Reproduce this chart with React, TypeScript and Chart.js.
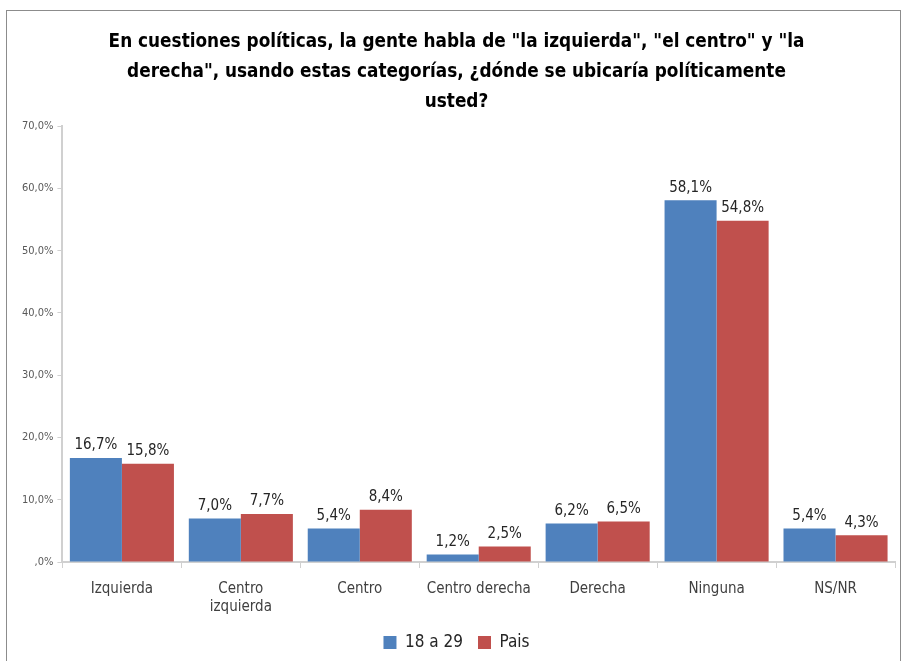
import React, { useEffect, useRef } from "react";
import { Chart, registerables } from "chart.js";

Chart.register(...registerables);

const categories: (string | string[])[] = [
  "Izquierda",
  ["Centro", "izquierda"],
  "Centro",
  "Centro derecha",
  "Derecha",
  "Ninguna",
  "NS/NR",
];
const jovenes = [16.7, 7.0, 5.4, 1.2, 6.2, 58.1, 5.4];
const pais = [15.8, 7.7, 8.4, 2.5, 6.5, 54.8, 4.3];
const seriesNames = ["18 a 29", "Pais"];
const titleLines = [
  'En cuestiones políticas, la gente habla de "la izquierda", "el centro" y "la',
  'derecha", usando estas categorías, ¿dónde se ubicaría políticamente',
  "usted?",
];

const FONT = "'Liberation Sans Narrow', 'DejaVu Sans Condensed', 'Open Sans', sans-serif";
const fmt = (v: number) => v.toFixed(1).replace(".", ",") + "%";

const labelPlugin = {
  id: "barLabels",
  afterDatasetsDraw(chart: any) {
    const ctx = chart.ctx;
    ctx.save();
    ctx.font = `15px ${FONT}`;
    ctx.fillStyle = "#262626";
    ctx.textAlign = "center";
    ctx.textBaseline = "bottom";
    chart.data.datasets.forEach((ds: any, i: number) => {
      const meta = chart.getDatasetMeta(i);
      meta.data.forEach((bar: any, j: number) => {
        ctx.fillText(fmt(ds.data[j]), bar.x, bar.y - 5);
      });
    });
    ctx.restore();
  },
};

export default function App() {
  const ref = useRef<HTMLCanvasElement>(null);
  useEffect(() => {
    if (!ref.current) return;
    const chart = new Chart(ref.current, {
      type: "bar",
      data: {
        labels: categories,
        datasets: [
          { label: seriesNames[0], data: jovenes, backgroundColor: "#4F81BD", borderWidth: 0 },
          { label: seriesNames[1], data: pais, backgroundColor: "#C0504D", borderWidth: 0 },
        ],
      },
      options: {
        animation: false,
        responsive: false,
        maintainAspectRatio: false,
        datasets: { bar: { categoryPercentage: 0.875, barPercentage: 1 } },
        layout: { padding: { left: 18, right: 11, top: 27, bottom: 0 } },
        plugins: {
          title: {
            display: true,
            text: titleLines,
            font: { family: FONT, size: 18.8, weight: "bold", lineHeight: 1.6 },
            color: "#000",
            padding: { top: 0, bottom: 9 },
          },
          legend: {
            position: "bottom",
            labels: {
              boxWidth: 13,
              boxHeight: 13,
              font: { family: FONT, size: 17 },
              color: "#262626",
              padding: 15,
            },
          },
          tooltip: { enabled: false },
        },
        scales: {
          x: {
            grid: { drawOnChartArea: false, drawTicks: true, tickLength: 6, color: "#d0d0d0", offset: true },
            border: { color: "#d0d0d0", width: 2 },
            ticks: { font: { family: FONT, size: 15 }, color: "#404040", padding: 12, maxRotation: 0, autoSkip: false },
            afterFit: (s: any) => {
              s.height -= 9;
            },
          },
          y: {
            min: 0,
            max: 70,
            grid: { drawOnChartArea: false, drawTicks: true, tickLength: 5, color: "#d0d0d0" },
            border: { color: "#d0d0d0", width: 2 },
            ticks: {
              stepSize: 10,
              font: { family: FONT, size: 11 },
              color: "#595959",
              padding: 4,
              callback: (v: any) => (v === 0 ? ",0%" : Number(v).toFixed(1).replace(".", ",") + "%"),
            },
          },
        },
      },
      plugins: [labelPlugin],
    });
    return () => chart.destroy();
  }, []);
  return (
    <div style={{ position: "absolute", left: 0, top: 0, width: 906, height: 661, background: "#fff", overflow: "hidden" }}>
      <div style={{ position: "absolute", left: 6, top: 10, width: 893, height: 660, border: "1px solid #8c8c8c", borderBottom: "none" }} />
      <canvas ref={ref} width={906} height={661} style={{ position: "absolute", left: 0, top: 0 }} />
    </div>
  );
}
